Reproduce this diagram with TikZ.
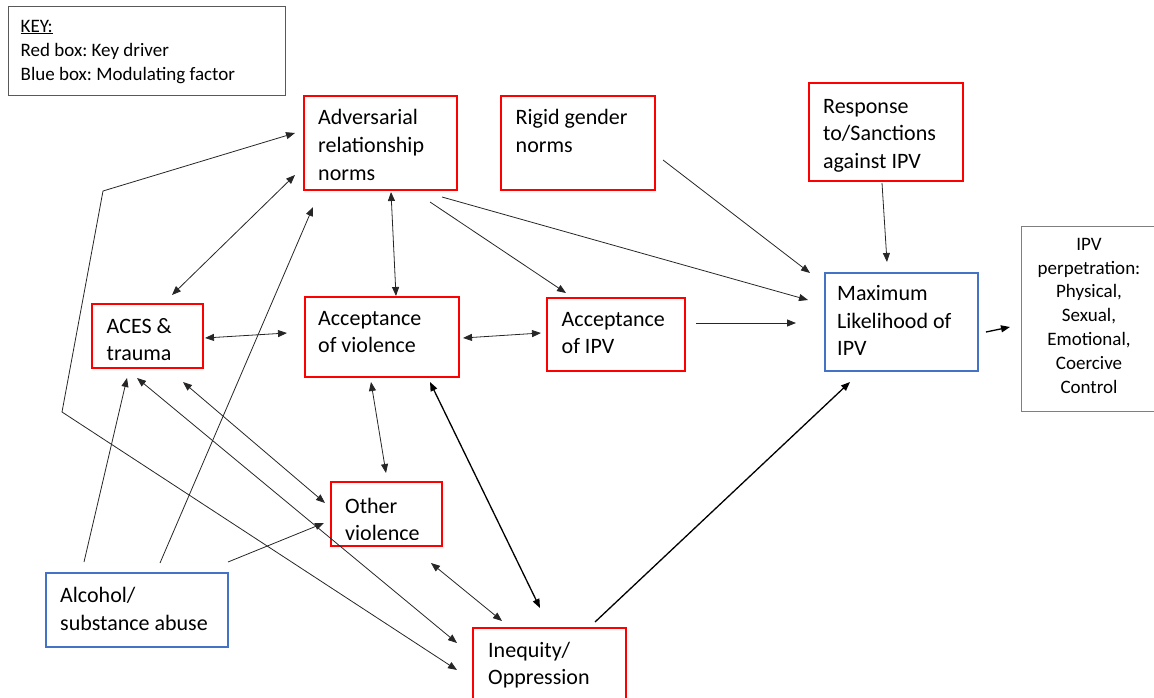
\documentclass[tikz,border=0pt]{standalone}
\usepackage{fontspec}
\setmainfont{Carlito}
\usetikzlibrary{arrows.meta}
\frenchspacing
\definecolor{boxred}{HTML}{FF0000}
\definecolor{boxblue}{HTML}{4472C4}
\definecolor{keygray}{HTML}{595959}
\definecolor{perpgray}{HTML}{7F7F7F}
\definecolor{linegray}{HTML}{262626}
\newcommand{\bigtxt}{\fontsize{22}{27.5}\selectfont}
\newcommand{\smalltxt}{\fontsize{19}{24.2}\selectfont}
\newcommand{\perptxt}{\fontsize{19}{23.9}\selectfont}
\begin{document}
\begin{tikzpicture}[x=1pt,y=-1pt,
  box/.style={anchor=north west, inner sep=0pt, outer sep=0pt},
  redbox/.style={box, draw=boxred, line width=2.4pt},
  bluebox/.style={box, draw=boxblue, line width=1.4pt},
  graybox/.style={box, draw=keygray, line width=1pt},
  txt/.style={anchor=base west, inner sep=0pt, align=left, font=\bigtxt},
  conn/.style={draw=linegray, line width=0.8pt},
  thick conn/.style={draw=black, line width=1.3pt},
  >={Triangle[length=9pt,width=7pt]}
]
\useasboundingbox (0,0) rectangle (1154,698);

% boxes
\node[graybox, minimum width=277pt, minimum height=89pt] (key) at (8,7) {};
\node[redbox, minimum width=153pt, minimum height=94pt] (adv) at (304,96) {};
\node[redbox, minimum width=154pt, minimum height=94pt] (rig) at (501,96) {};
\node[redbox, minimum width=154pt, minimum height=98pt] (resp) at (809,83) {};
\node[redbox, minimum width=111pt, minimum height=64pt] (ace) at (92,304) {};
\node[redbox, minimum width=154pt, minimum height=80pt] (accv) at (305,297) {};
\node[redbox, minimum width=138pt, minimum height=73pt] (acci) at (547,298) {};
\node[bluebox, minimum width=153pt, minimum height=98pt] (max) at (825,273) {};
\node[graybox, draw=perpgray, minimum width=136pt, minimum height=185pt] (perp) at (1021,226) {};
\node[redbox, minimum width=111pt, minimum height=64pt] (oth) at (331,482) {};
\node[redbox, minimum width=153pt, minimum height=90pt] (ineq) at (473,628) {};
\node[bluebox, line width=2pt, minimum width=182pt, minimum height=74pt] (alc) at (46,573) {};

% texts (anchored at the baseline of their last line)
\node[txt, font=\smalltxt] (keyT) at (20.5,80.5) {\underline{KEY:}\\Red box: Key driver\\Blue box: Modulating factor};
\node[txt] (advT) at (318,180) {Adversarial\\relationship\\norms};
\node[txt] (rigT) at (515.5,152.5) {Rigid gender\\norms};
\node[txt] (respT) at (823,168) {Response\\to/Sanctions\\against IPV};
\node[txt] (aceT) at (106.5,360.5) {ACES \&\\trauma};
\node[txt] (accvT) at (318,352.5) {Acceptance\\of violence};
\node[txt] (acciT) at (561.5,353.5) {Acceptance\\of IPV};
\node[txt] (maxT) at (837,355.5) {Maximum\\Likelihood of\\IPV};
\node[txt, anchor=base, align=center, font=\perptxt] (perpT) at (1089,393.5) {IPV\\perpetration:\\Physical,\\Sexual,\\Emotional,\\Coercive\\Control};
\begin{scope}
  \clip (oth.north west) rectangle ([yshift=7pt]oth.south east);
  \node[txt] (othT) at (345,540.5) {Other\\violence};
\end{scope}
\node[txt] (alcT) at (60,630) {Alcohol/\\substance abuse};
\node[txt] (ineqT) at (488,684.5) {Inequity/\\Oppression};

% bend points of the elbow connector
\coordinate (bendA) at (62,412);
\coordinate (bendB) at (103,191);

% connectors
\draw[conn,<->] ([shift={(-16,42)}]ineq.north west) -- (bendA) -- (bendB) -- ([shift={(-9,37)}]adv.north west);
\draw[conn,<->] ([shift={(80,-9)}]ace.north west) -- ([shift={(-9,79)}]adv.north west);
\draw[conn,->] ([shift={(114,-10)}]alc.north west) -- ([shift={(9,111)}]adv.north west);
\draw[conn,->] ([shift={(38,-11)}]alc.north west) -- ([shift={(35,74)}]ace.north west);
\draw[conn,<->] ([shift={(113,34)}]ace.north west) -- ([shift={(-18,36)}]accv.north west);
\draw[conn,<->] ([shift={(45,74)}]ace.north west) -- ([shift={(-16,15)}]ineq.north west);
\draw[conn,<->] ([shift={(91,78)}]ace.north west) -- ([shift={(-6,21)}]oth.north west);
\draw[conn,->] ([shift={(182,-11)}]alc.north west) -- ([shift={(-7,41)}]oth.north west);
\draw[conn,<->] ([shift={(87,96)}]adv.north west) -- ([shift={(91,-1)}]accv.north west);
\draw[conn,->] ([shift={(126,106)}]adv.north west) -- ([shift={(19,-5)}]acci.north west);
\draw[conn,->] ([shift={(138,101)}]adv.north west) -- ([shift={(-17,27)}]max.north west);
\draw[conn,->] ([shift={(162,64)}]rig.north west) -- ([shift={(-15,0)}]max.north west);
\draw[conn,->] ([shift={(73,100)}]resp.north west) -- ([shift={(62,-11)}]max.north west);
\draw[conn,<->] ([shift={(158,41)}]accv.north west) -- ([shift={(-6,35)}]acci.north west);
\draw[conn,->] ([shift={(149,25)}]acci.north west) -- ([shift={(-29,50)}]max.north west);
\draw[thick conn,->] ([shift={(161,59)}]max.north west) -- ([shift={(-11,101)}]perp.north west);
\draw[thick conn,->] ([shift={(122,-6)}]ineq.north west) -- ([shift={(25,109)}]max.north west);
\draw[conn,<->] ([shift={(66,85)}]accv.north west) -- ([shift={(55,-9)}]oth.north west);
\draw[thick conn,<->] ([shift={(125,85)}]accv.north west) -- ([shift={(67,-20)}]ineq.north west);
\draw[conn,<->] ([shift={(100,81)}]oth.north west) -- ([shift={(29,-7)}]ineq.north west);
\end{tikzpicture}
\end{document}
